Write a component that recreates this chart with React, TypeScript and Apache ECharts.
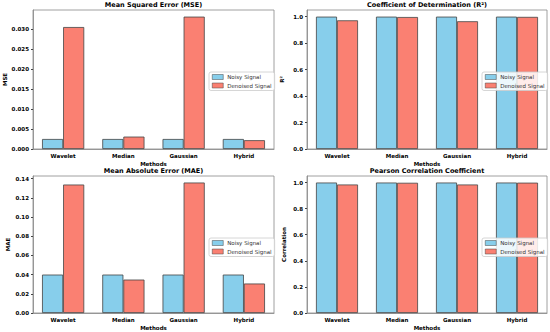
import React, { useEffect, useRef } from "react";
import * as echarts from "echarts";

const methods = ["Wavelet", "Median", "Gaussian", "Hybrid"];
const mseNoisy = [0.0025, 0.0025, 0.0025, 0.0025];
const mseDenoised = [0.0305, 0.0031, 0.0331, 0.0022];
const r2Noisy = [0.9999, 0.9999, 0.9999, 0.9999];
const r2Denoised = [0.972, 0.997, 0.965, 0.998];
const maeNoisy = [0.04, 0.04, 0.04, 0.04];
const maeDenoised = [0.1338, 0.0348, 0.1359, 0.0307];
const corrNoisy = [0.9999, 0.9999, 0.9999, 0.9999];
const corrDenoised = [0.985, 0.998, 0.985, 0.999];

const panels = [
  { title: "Mean Squared Error (MSE)", yName: "MSE", noisy: mseNoisy, denoised: mseDenoised, max: 0.03476, interval: 0.005, dec: 3, nameGap: 25 },
  { title: "Coefficient of Determination (R²)", yName: "R²", noisy: r2Noisy, denoised: r2Denoised, max: 1.05, interval: 0.2, dec: 1, nameGap: 22 },
  { title: "Mean Absolute Error (MAE)", yName: "MAE", noisy: maeNoisy, denoised: maeDenoised, max: 0.1427, interval: 0.02, dec: 2, nameGap: 22 },
  { title: "Pearson Correlation Coefficient", yName: "Correlation", noisy: corrNoisy, denoised: corrDenoised, max: 1.05, interval: 0.2, dec: 1, nameGap: 20 },
];

const rects = [
  { left: 33, top: 10, width: 241, height: 139 },
  { left: 307, top: 10, width: 240, height: 139 },
  { left: 33, top: 176, width: 241, height: 139 },
  { left: 307, top: 176, width: 240, height: 139 },
];

const FONT = "DejaVu Sans";
const NOISY = "#87CEEB";
const DENOISED = "#FA8072";

export default function App() {
  const ref = useRef<HTMLDivElement>(null);
  useEffect(() => {
    const chart = echarts.init(ref.current!, undefined, { renderer: "svg" });
    const option: any = {
      animation: false,
      backgroundColor: "#fff",
      textStyle: { fontFamily: FONT },
      title: panels.map((p, i) => ({
        text: p.title,
        left: rects[i].left + rects[i].width / 2,
        top: rects[i].top - 8.5,
        textAlign: "center",
        padding: 0,
        textStyle: { fontFamily: FONT, fontSize: 6.5, fontWeight: "bold", color: "#000" },
      })),
      legend: panels.map((p, i) => ({
        orient: "vertical",
        left: rects[i].left + rects[i].width - 65,
        top: rects[i].top + 62,
        padding: [2, 3, 2, 3],
        itemGap: 2.5,
        itemWidth: 11,
        itemHeight: 5,
        icon: "rect",
        borderColor: "#ccc",
        borderWidth: 0.8,
        borderRadius: 2,
        backgroundColor: "rgba(255,255,255,0.85)",
        itemStyle: { borderWidth: 0.5, borderColor: "#444" },
        textStyle: { fontFamily: FONT, fontSize: 5.5, color: "#333", padding: [0, 0, 0, -1] },
        data: [
          { name: "Noisy Signal", itemStyle: { color: NOISY } },
          { name: "Denoised Signal", itemStyle: { color: DENOISED } },
        ],
      })),
      grid: rects.map((r) => ({
        ...r,
        show: true,
        borderColor: "#888",
        borderWidth: 0.8,
        backgroundColor: "transparent",
      })),
      xAxis: panels.map((p, i) => ({
        type: "category",
        gridIndex: i,
        data: methods,
        name: "Methods",
        nameLocation: "middle",
        nameGap: 12,
        nameTextStyle: { fontFamily: FONT, fontSize: 5.5, fontWeight: "bold", color: "#000" },
        axisLine: { lineStyle: { color: "#888", width: 0.8 } },
        axisTick: { alignWithLabel: true, length: 2, lineStyle: { color: "#444" } },
        axisLabel: { fontFamily: FONT, fontSize: 5.5, fontWeight: "bold", color: "#000", margin: 4 },
      })),
      yAxis: panels.map((p, i) => ({
        type: "value",
        gridIndex: i,
        min: 0,
        max: p.max,
        interval: p.interval,
        name: p.yName,
        nameLocation: "middle",
        nameGap: p.nameGap,
        nameTextStyle: { fontFamily: FONT, fontSize: 5.5, fontWeight: "bold", color: "#000" },
        axisLine: { show: true, lineStyle: { color: "#888", width: 0.8 } },
        axisTick: { show: true, length: 2, lineStyle: { color: "#444" } },
        splitLine: { show: false },
        axisLabel: {
          fontFamily: FONT,
          fontSize: 5.5,
          fontWeight: "bold",
          color: "#000",
          margin: 4,
          showMaxLabel: false,
          formatter: (v: number) => v.toFixed(p.dec),
        },
      })),
      series: panels.flatMap((p, i) => [
        {
          type: "bar",
          name: "Noisy Signal",
          xAxisIndex: i,
          yAxisIndex: i,
          data: p.noisy,
          barWidth: "35%",
          barGap: "0%",
          itemStyle: { color: NOISY, borderColor: "#444", borderWidth: 0.8 },
        },
        {
          type: "bar",
          name: "Denoised Signal",
          xAxisIndex: i,
          yAxisIndex: i,
          data: p.denoised,
          barWidth: "35%",
          barGap: "0%",
          itemStyle: { color: DENOISED, borderColor: "#444", borderWidth: 0.8 },
        },
      ]),
    };
    chart.setOption(option);
    return () => chart.dispose();
  }, []);
  return (
    <div
      ref={ref}
      style={{ position: "fixed", left: 0, top: 0, width: 550, height: 332, background: "#fff" }}
    />
  );
}
